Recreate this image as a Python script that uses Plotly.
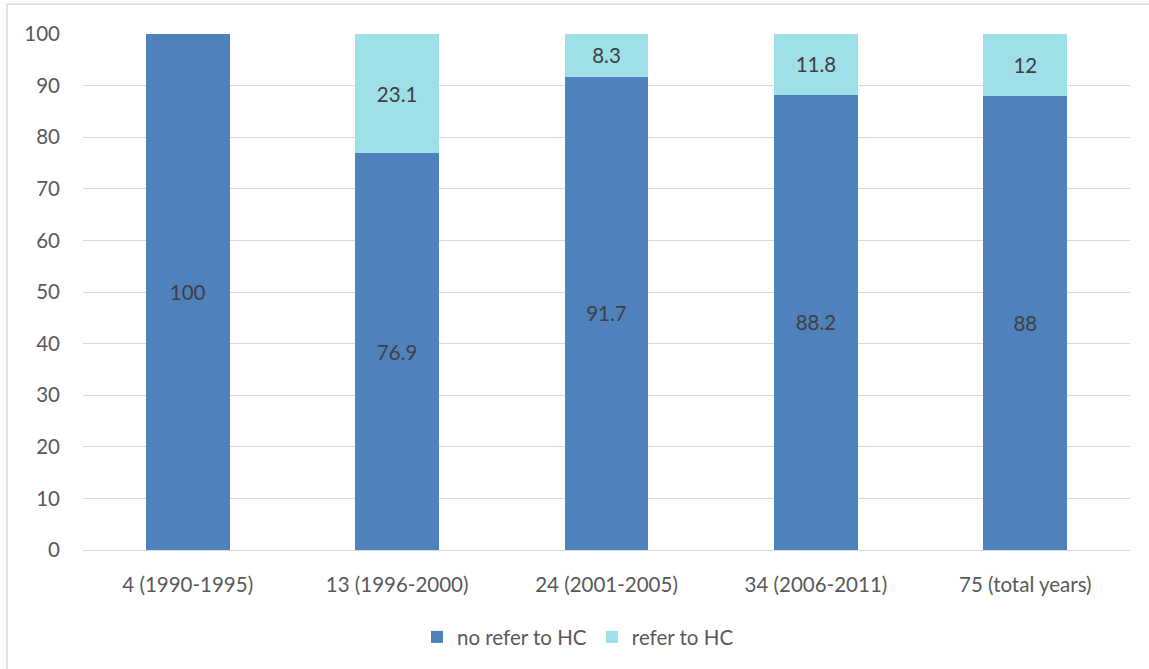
import plotly.graph_objects as go

categories = ["4 (1990-1995)", "13 (1996-2000)", "24 (2001-2005)", "34 (2006-2011)", "75 (total years)"]
no_refer = [100, 76.9, 91.7, 88.2, 88]
refer = [0, 23.1, 8.3, 11.8, 12]
refer_labels = ["", "23.1", "8.3", "11.8", "12"]

FONT = "Lato"
SIZE = 20.5
GRID = "#D9D9D9"

fig = go.Figure()
fig.add_trace(go.Bar(
    x=categories, y=no_refer, name="no refer to HC",
    marker=dict(color="#4F81BD", line=dict(width=0)),
    text=[f"{v:g}" for v in no_refer], textposition="inside",
    insidetextanchor="middle", textangle=0,
    textfont=dict(family=FONT, size=SIZE, color="#404040"),
))
fig.add_trace(go.Bar(
    x=categories, y=refer, name="refer to HC",
    marker=dict(color="#9EDFE8", line=dict(width=0)),
    text=refer_labels, textposition="inside",
    insidetextanchor="middle", textangle=0,
    textfont=dict(family=FONT, size=SIZE, color="#404040"),
))

fig.update_layout(
    barmode="stack",
    bargap=0.6,
    width=1149, height=669,
    margin=dict(l=83, r=19, t=34, b=116),
    paper_bgcolor="white", plot_bgcolor="white",
    font=dict(family=FONT, size=SIZE, color="#595959"),
    uniformtext=dict(mode="show", minsize=10),
    legend=dict(
        orientation="h", x=0.319, xanchor="left", y=-0.13, yanchor="top",
        font=dict(family=FONT, size=SIZE, color="#595959"),
        itemwidth=30, traceorder="normal",
    ),
    xaxis=dict(
        showgrid=False, showline=True, linecolor=GRID, linewidth=1,
        ticks="", ticklabelstandoff=16,
        tickfont=dict(family=FONT, size=SIZE, color="#595959"),
    ),
    yaxis=dict(
        range=[0, 100], dtick=10, showgrid=True, gridcolor=GRID, gridwidth=1,
        zeroline=True, zerolinecolor=GRID, zerolinewidth=1,
        ticks="", ticklabelstandoff=22,
        tickfont=dict(family=FONT, size=SIZE, color="#595959"),
    ),
    shapes=[dict(
        type="rect", xref="paper", yref="paper",
        x0=-0.0726, x1=1.03, y0=-0.24, y1=1.0578,
        line=dict(color=GRID, width=1.5), fillcolor="rgba(0,0,0,0)", layer="below",
    )],
)

fig.write_html("out.html")
